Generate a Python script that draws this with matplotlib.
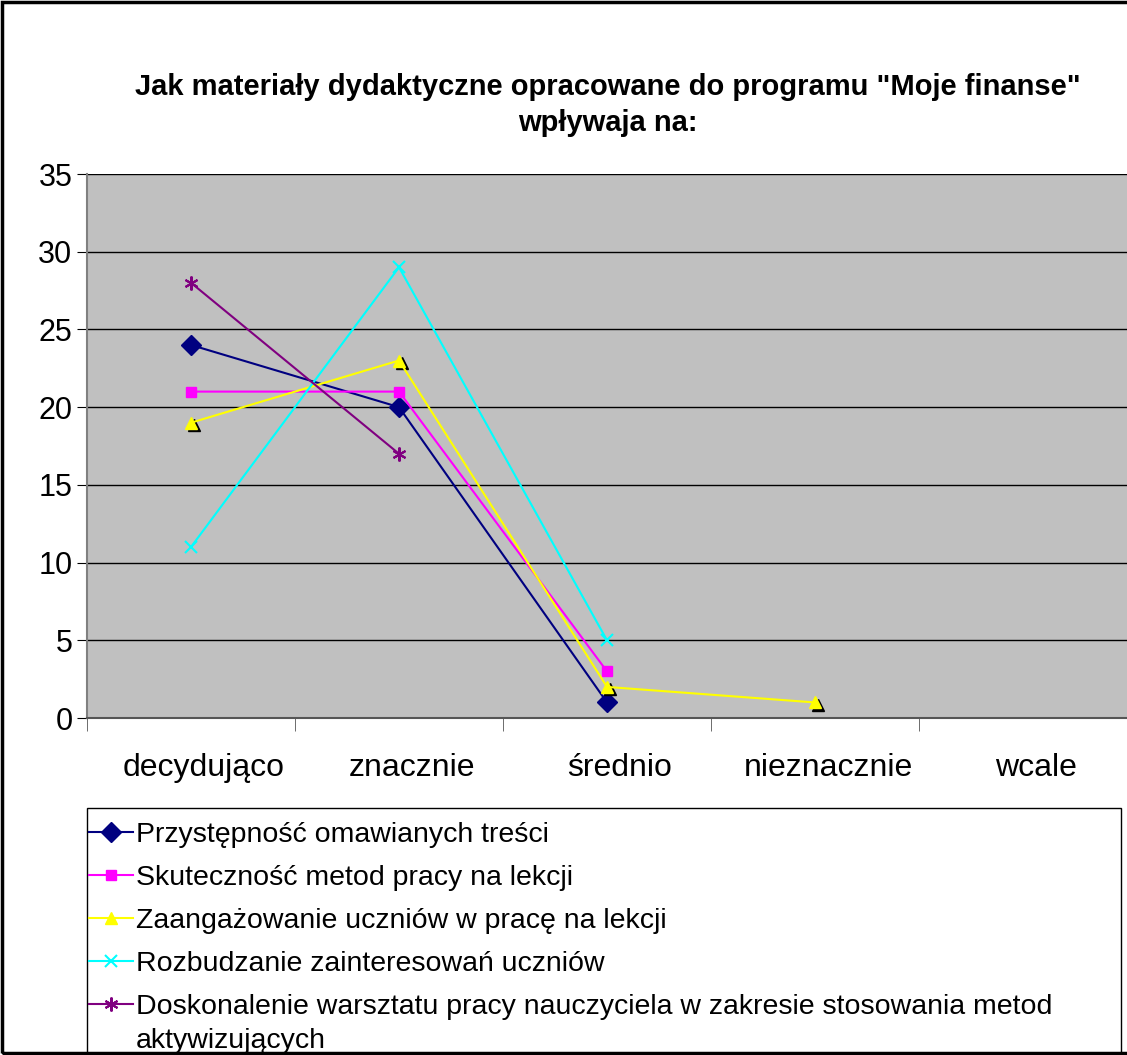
import matplotlib
matplotlib.use("Agg")
import matplotlib.pyplot as plt
import matplotlib.transforms as mtransforms
import numpy as np

plt.rcParams['font.family'] = ['Liberation Sans', 'DejaVu Sans']

# categories and series
categories = ["decydująco", "znacznie", "średnio", "nieznacznie", "wcale"]
przystepnosc = [24, 20, 1, np.nan, np.nan]
skutecznosc = [21, 21, 3, np.nan, np.nan]
zaangazowanie = [19, 23, 2, 1, np.nan]
rozbudzanie = [11, 29, 5, np.nan, np.nan]
doskonalenie = [28, 17, np.nan, np.nan, np.nan]

labels = [
    "Przystępność omawianych treści",
    "Skuteczność metod pracy na lekcji",
    "Zaangażowanie uczniów w pracę na lekcji",
    "Rozbudzanie zainteresowań uczniów",
    "Doskonalenie warsztatu pracy nauczyciela w zakresie stosowania metod\naktywizujących",
]

W, H = 1127, 1055
fig = plt.figure(figsize=(W / 100, H / 100), dpi=100)
ax = fig.add_axes([87 / W, 1 - 718 / H, 1 - 87 / W, (718 - 174) / H])
ax.set_facecolor("#c0c0c0")

x = np.arange(len(categories))
# Excel puts the legend marker next to the first line of a wrapped label,
# so the wrapped tail is written as a separate text below
first_lines = [s.split("\n")[0] for s in labels]

ax.plot(x, przystepnosc, color="#000080", lw=1.5, marker="D", ms=10, label=first_lines[0])
ax.plot(x, skutecznosc, color="#ff00ff", lw=1.5, marker="s", ms=7, label=first_lines[1])
# black shadow under the yellow triangles
shadow = mtransforms.offset_copy(ax.transData, fig=fig, x=2.5, y=-2.5, units="dots")
ax.plot(x, zaangazowanie, ls="none", marker="^", ms=9, color="black", transform=shadow)
ax.plot(x, zaangazowanie, color="#ffff00", lw=1.5, marker="^", ms=9, label=first_lines[2])
ax.plot(x, rozbudzanie, color="#00ffff", lw=1.5, marker="x", ms=9, mew=1.5, label=first_lines[3])
ax.plot(x, doskonalenie, color="#800080", lw=1.5, marker=(6, 2, 0), ms=10, mew=1.5, label=first_lines[4])

ax.set_xlim(-0.5, 4.5)
ax.set_ylim(0, 35)
ax.set_yticks(range(0, 36, 5))
ax.yaxis.grid(True, color="black", lw=1)
ax.set_axisbelow(True)

ax.set_xticks(x)
ax.set_xticklabels(categories, fontsize=23)
ax.set_xticks(np.arange(-0.5, 5, 1), minor=True)
ax.tick_params(axis="x", which="major", length=0, pad=25)
ax.tick_params(axis="x", which="minor", length=9, color="#555555")
ax.tick_params(axis="y", labelsize=22, length=7, pad=3.5)
# category labels sit slightly right of the category centre in the original
shift = mtransforms.ScaledTranslation(13 / 100, 0, fig.dpi_scale_trans)
for lab in ax.get_xticklabels():
    lab.set_transform(lab.get_transform() + shift)

for side in ["top", "right"]:
    ax.spines[side].set_visible(False)
ax.spines["left"].set_color("#808080")
ax.spines["bottom"].set_color("#555555")
ax.spines["left"].set_linewidth(1.5)
ax.spines["bottom"].set_linewidth(1.5)

fig.text(608 / W, 1 - 105 / H,
         'Jak materiały dydaktyczne opracowane do programu "Moje finanse"\nwpływaja na:',
         ha="center", va="center", fontsize=21, fontweight="bold", linespacing=1.35)

# legend without its own frame, box drawn separately
handles, labs = ax.get_legend_handles_labels()
leg = fig.legend(handles, labs, loc="upper left",
                 bbox_to_anchor=(89 / W, 1 - 822 / H),
                 fontsize=20.5, frameon=False,
                 handlelength=1.55, handletextpad=0.1, borderaxespad=0,
                 labelspacing=0.6, borderpad=0)
fig.patches.append(plt.Rectangle((87 / W, -0.01), (1121 - 87) / W, 1 - 808 / H + 0.01,
                                 transform=fig.transFigure, fill=False,
                                 edgecolor="black", lw=1))

fig.canvas.draw()
bb = leg.get_texts()[4].get_window_extent()
tail = "\n".join(labels[4].split("\n")[1:])
fig.text(bb.x0 / W, (bb.y0 - 34) / H, tail, fontsize=20.5, ha="left", va="bottom")

# outer border
fig.patches.append(plt.Rectangle((0.002, 0.002), 1.2, 0.996, transform=fig.transFigure,
                                 fill=False, edgecolor="black", lw=2.5))

fig.savefig("out.png", dpi=100)
